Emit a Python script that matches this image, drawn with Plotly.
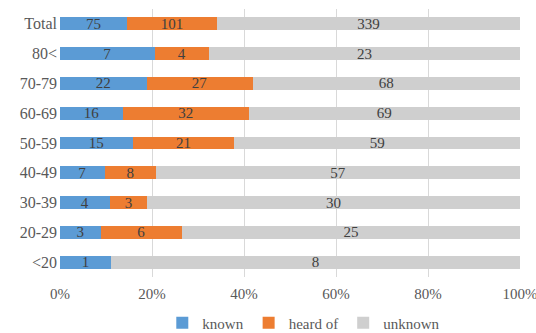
import plotly.graph_objects as go

categories = ["Total", "80<", "70-79", "60-69", "50-59", "40-49", "30-39", "20-29", "<20"]
known = [75, 7, 22, 16, 15, 7, 4, 3, 1]
heard_of = [101, 4, 27, 32, 21, 8, 3, 6, 0]
unknown = [339, 23, 68, 69, 59, 57, 30, 25, 8]
tick_vals = [0, 20, 40, 60, 80, 100]
tick_text = ["0%", "20%", "40%", "60%", "80%", "100%"]

FONT = "Liberation Serif, Times New Roman, serif"
series = [("known", known, "#5B9BD5"), ("heard of", heard_of, "#ED7D31"), ("unknown", unknown, "#CFCFCF")]

fig = go.Figure()
for name, vals, color in series:
    fig.add_trace(go.Bar(
        y=categories, x=vals, name=name, orientation="h",
        marker=dict(color=color, line=dict(width=0)),
        text=[str(v) if v else "" for v in vals],
        textposition="inside", insidetextanchor="middle", textangle=0,
        textfont=dict(family=FONT, size=15, color="#404040"),
        constraintext="none", hoverinfo="skip",
    ))

fig.update_layout(
    barmode="stack", barnorm="percent", bargap=0.57,
    width=536, height=333,
    margin=dict(l=60, r=16, t=9, b=56, autoexpand=False),
    paper_bgcolor="white", plot_bgcolor="white",
    font=dict(family=FONT, size=14, color="#595959"),
    showlegend=True,
    legend=dict(orientation="h", x=0.53, xanchor="center",
                yref="container", y=0.03, yanchor="middle",
                font=dict(family=FONT, size=15, color="#595959"),
                itemwidth=30, tracegroupgap=0, traceorder="normal"),
    uniformtext=dict(mode=False),
)
fig.update_xaxes(range=[0, 100], tickvals=tick_vals, ticktext=tick_text,
                 showgrid=True, gridcolor="#D9D9D9", gridwidth=1,
                 zeroline=False, showline=False, ticks="", ticklabelstandoff=6,
                 ticklabeloverflow="allow", automargin=False,
                 tickfont=dict(family=FONT, size=15, color="#595959"))
fig.update_yaxes(categoryorder="array", categoryarray=categories[::-1],
                 showgrid=False, ticks="", ticklen=0, ticklabelstandoff=2,
                 automargin=False,
                 tickfont=dict(family=FONT, size=16, color="#595959"))

fig.write_html("out.html")
